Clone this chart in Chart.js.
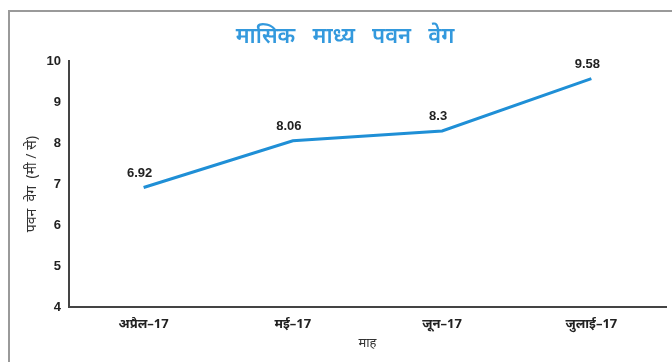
<!DOCTYPE html>
<html>
<head>
<meta charset="utf-8">
<script src="https://cdn.jsdelivr.net/npm/chart.js@4"></script>
<style>
  body { margin: 0; background: #fff; }
  #wrap { position: relative; width: 672px; height: 362px; }
  #frame { position: absolute; left: 8px; top: 10px; right: -4px; bottom: -4px;
           border-left: 2px solid #9a9a9a; border-top: 2px solid #9a9a9a; }
  canvas { position: absolute; left: 0; top: 0; }
</style>
</head>
<body>
<div id="wrap">
  <div id="frame"></div>
  <canvas id="myChart" width="672" height="362"></canvas>
</div>
<script>
const months = ['अप्रैल–17', 'मई–17', 'जून–17', 'जुलाई–17']
const windSpeed = [6.92, 8.06, 8.3, 9.58]
const yTicks = [4, 5, 6, 7, 8, 9, 10]

const numFont = '"Liberation Sans", Arial, sans-serif'
const hindiFont = '"Noto Sans", "Liberation Sans", sans-serif'

// value labels above each point
const pointLabels = {
  id: 'pointLabels',
  afterDatasetsDraw(chart) {
    const ctx = chart.ctx
    const meta = chart.getDatasetMeta(0)
    ctx.save()
    ctx.font = 'bold 13px ' + numFont
    ctx.fillStyle = '#222'
    ctx.textAlign = 'center'
    ctx.textBaseline = 'bottom'
    meta.data.forEach((pt, i) => {
      ctx.fillText(String(windSpeed[i]), pt.x - 4, pt.y - 8)
    })
    ctx.restore()
  }
}

function createChart() {
  const ctx = document.getElementById('myChart')
  new Chart(ctx, {
    type: 'line',
    data: {
      labels: months,
      datasets: [{
        data: windSpeed,
        borderColor: '#1f8fd6',
        borderWidth: 3,
        pointRadius: 0,
        tension: 0
      }]
    },
    options: {
      responsive: false,
      animation: false,
      layout: { padding: { left: 24, right: 6, top: 0, bottom: 0 } },
      plugins: {
        legend: { display: false },
        tooltip: { enabled: false },
        title: {
          display: true,
          text: 'मासिक   माध्य   पवन   वेग',
          color: '#3399dd',
          font: { family: hindiFont, size: 22, weight: '600' },
          padding: { top: 24, bottom: 11 }
        }
      },
      scales: {
        x: {
          offset: true,
          grid: { display: false, drawTicks: false },
          border: { display: true, color: '#444', width: 2 },
          ticks: {
            color: '#222',
            padding: 9,
            maxRotation: 0,
            font: { family: hindiFont, size: 13, weight: 'bold' }
          },
          title: {
            display: true,
            text: 'माह',
            color: '#333',
            font: { family: hindiFont, size: 13 },
            padding: { top: 0, bottom: 11 }
          },
          afterFit(scale) { scale.height = 55 }
        },
        y: {
          min: 4,
          max: 10,
          afterBuildTicks(scale) { scale.ticks = yTicks.map(v => ({ value: v })) },
          grid: { display: false, drawTicks: false },
          border: { display: true, color: '#444', width: 2 },
          ticks: {
            color: '#222',
            padding: 8,
            font: { family: numFont, size: 13, weight: 'bold' }
          },
          title: {
            display: true,
            text: 'पवन  वेग  (मी / से)',
            color: '#333',
            font: { family: hindiFont, size: 14 },
            padding: { top: 0, bottom: 0 }
          },
          afterFit(scale) { scale.width = 45 }
        }
      }
    },
    plugins: [pointLabels]
  })
}

createChart()
</script>
</body>
</html>
